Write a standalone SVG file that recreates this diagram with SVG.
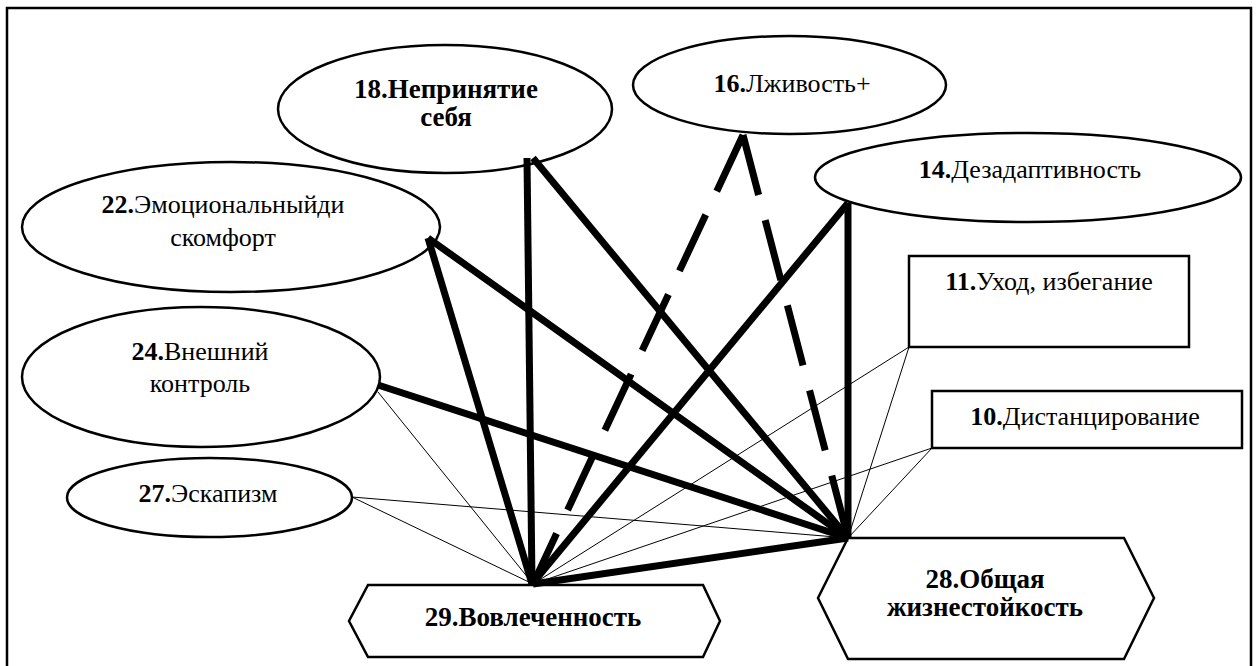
<svg xmlns="http://www.w3.org/2000/svg" width="1257" height="666" viewBox="0 0 1257 666">
  <style>
    .shape { fill: #ffffff; stroke: #000000; stroke-width: 2.5; }
    .lbl { font-family: "Liberation Serif", "Times New Roman", serif; font-size: 26px; fill: #000000; text-anchor: middle; }
    .big { font-size: 27px; }
    .b { font-weight: bold; }
    .thick { stroke: #000000; stroke-width: 7; fill: none; }
    .dash { stroke: #000000; stroke-width: 7; fill: none; stroke-dasharray: 62 26; }
    .thin { stroke: #000000; stroke-width: 1; fill: none; }
  </style>

  <!-- frame -->
  <rect x="7" y="8" width="1244" height="680" fill="#ffffff" stroke="#000000" stroke-width="2.5"/>

  <!-- scale nodes -->
  <g id="n18">
    <ellipse class="shape" cx="445" cy="109" rx="167" ry="64"/>
    <text class="lbl big b" x="446" y="98">18.Непринятие</text>
    <text class="lbl big b" x="446" y="126">себя</text>
  </g>
  <g id="n16">
    <ellipse class="shape" cx="789.5" cy="85" rx="156.5" ry="49"/>
    <text class="lbl" x="792" y="92"><tspan class="b">16.</tspan>Лживость+</text>
  </g>
  <g id="n14">
    <ellipse class="shape" cx="1028" cy="177.5" rx="213" ry="44.5"/>
    <text class="lbl" x="1030" y="178"><tspan class="b">14.</tspan>Дезадаптивность</text>
  </g>
  <g id="n22">
    <ellipse class="shape" cx="231" cy="227" rx="209" ry="65"/>
    <text class="lbl" x="223" y="213"><tspan class="b">22.</tspan>Эмоциональныйди</text>
    <text class="lbl" x="223" y="246">скомфорт</text>
  </g>
  <g id="n24">
    <ellipse class="shape" cx="201" cy="377" rx="179" ry="70"/>
    <text class="lbl" x="200" y="360"><tspan class="b">24.</tspan>Внешний</text>
    <text class="lbl" x="200" y="392">контроль</text>
  </g>
  <g id="n27">
    <ellipse class="shape" cx="209.5" cy="497.5" rx="142.5" ry="39.5"/>
    <text class="lbl" x="208" y="502"><tspan class="b">27.</tspan>Эскапизм</text>
  </g>
  <g id="n11">
    <rect class="shape" x="909" y="256" width="280" height="91"/>
    <text class="lbl" x="1049" y="290"><tspan class="b">11.</tspan>Уход, избегание</text>
  </g>
  <g id="n10">
    <rect class="shape" x="932" y="391" width="310" height="57"/>
    <text class="lbl" x="1085" y="425"><tspan class="b">10.</tspan>Дистанцирование</text>
  </g>
  <g id="n29">
    <polygon class="shape" points="368,585 703,585 720,621 703,657 368,657 349,621"/>
    <text class="lbl big b" x="533" y="626">29.Вовлеченность</text>
  </g>
  <g id="n28">
    <polygon class="shape" points="848,538 1124,538 1154,598 1124,659 848,659 818,598"/>
    <text class="lbl big b" x="985" y="588">28.Общая</text>
    <text class="lbl big b" x="985" y="616">жизнестойкость</text>
  </g>

  <!-- links to the two hardiness hubs -->
  <g id="connectors">
    <line class="thin" x1="378" y1="392" x2="533" y2="584"/>
    <line class="thin" x1="352" y1="497" x2="533" y2="584"/>
    <line class="thin" x1="352" y1="497" x2="848" y2="538"/>
    <line class="thin" x1="909" y1="347" x2="533" y2="584"/>
    <line class="thin" x1="909" y1="347" x2="848" y2="538"/>
    <line class="thin" x1="932" y1="448" x2="533" y2="584"/>
    <line class="thin" x1="932" y1="448" x2="848" y2="538"/>

    <line class="thick" x1="527" y1="158" x2="532" y2="584"/>
    <line class="thick" x1="533" y1="158" x2="848" y2="538"/>
    <line class="thick" x1="428" y1="238" x2="532" y2="584"/>
    <line class="thick" x1="428" y1="238" x2="848" y2="538"/>
    <line class="thick" x1="378" y1="385" x2="848" y2="538"/>
    <line class="thick" x1="848" y1="203" x2="848" y2="538"/>
    <line class="thick" x1="848" y1="203" x2="532" y2="584"/>
    <line class="thick" x1="533" y1="584" x2="848" y2="538"/>

    <line class="dash" x1="743" y1="135" x2="533" y2="584"/>
    <line class="dash" x1="743" y1="135" x2="848" y2="538"/>
  </g>
</svg>
